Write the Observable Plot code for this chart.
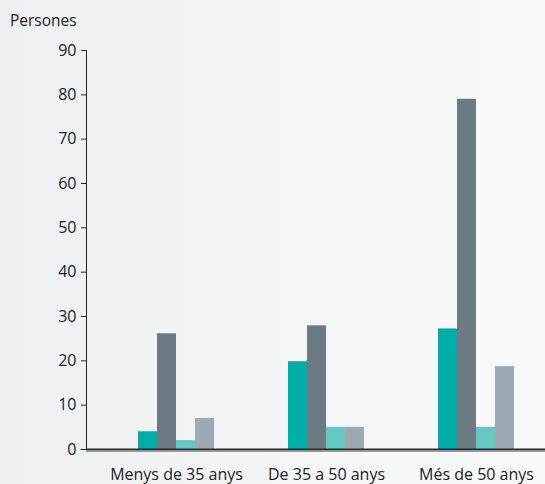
<!DOCTYPE html>
<html><head><meta charset="utf-8">
<script src="https://cdn.jsdelivr.net/npm/d3@7"></script>
<script src="https://cdn.jsdelivr.net/npm/@observablehq/plot@0.6"></script>
<style>
html,body{margin:0;padding:0;}
body{width:545px;height:484px;background:linear-gradient(to right,#edf0f2,#f8f9f9);font-family:"Open Sans",sans-serif;position:relative;overflow:hidden;}
#ylabel{position:absolute;left:10px;top:9px;font-size:15.5px;color:#222;}
#chart{position:absolute;left:0;top:0;}
</style></head><body>
<div id="ylabel">Persones</div>
<div id="chart"></div>
<script>
const groups = ["Menys de 35 anys", "De 35 a 50 anys", "Més de 50 anys"];
const seriesNames = ["Sèrie 1", "Sèrie 2", "Sèrie 3", "Sèrie 4"];
const serie1 = [4, 19.8, 27.2];
const serie2 = [26.1, 27.9, 79];
const serie3 = [2, 5, 5];
const serie4 = [7, 5, 18.7];
const yTicks = [0, 10, 20, 30, 40, 50, 60, 70, 80, 90];
const colors = ["#00ada8", "#6b7a83", "#66c7c5", "#9eaab3"];

const allSeries = [serie1, serie2, serie3, serie4];
const data = allSeries.flatMap((vals, i) => groups.map((g, j) => ({group: g, serie: seriesNames[i], value: vals[j]})));

const bandW = 150, barW = 19, lead = (bandW - 4 * barW) / 2;
const barMarks = seriesNames.map((s, i) => Plot.barY(data.filter(d => d.serie === s), {
  x: "group", y: "value", fill: colors[i],
  insetLeft: lead + barW * i, insetRight: bandW - lead - barW * (i + 1)
}));

const chart = Plot.plot({
  width: 545, height: 484,
  marginLeft: 86, marginRight: 0, marginTop: 50, marginBottom: 35,
  style: {background: "transparent", fontFamily: "Open Sans", fontSize: "16px", color: "#222", overflow: "visible"},
  x: {domain: groups, range: [101, 551], padding: 0, tickSize: 0, tickPadding: 19, label: null},
  y: {domain: [0, 90], ticks: yTicks, tickSize: 5, tickPadding: 5, label: null, line: true},
  marks: [
    ...barMarks,
    Plot.ruleY([0], {stroke: "#9a9a9a", strokeWidth: 1, dy: 2}),
    Plot.ruleY([0], {stroke: "#2b2b2b", strokeWidth: 2})
  ]
});
document.getElementById("chart").appendChild(chart);
</script>
</body></html>
